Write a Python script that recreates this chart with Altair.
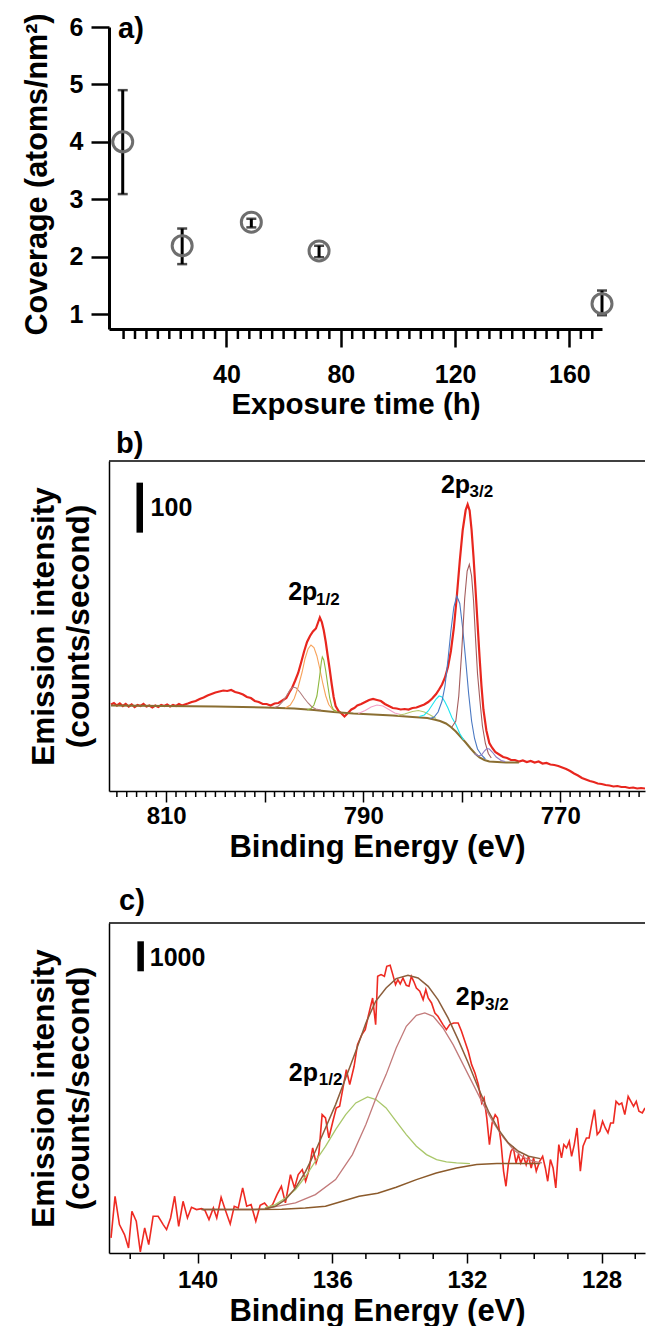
import altair as alt
import pandas as pd

FONT = "Liberation Sans"

# ---------------- panel a : coverage vs exposure time ----------------
a_time = [3.7, 24.5, 48.7, 72.4, 171.4]
a_cov = [4.0, 2.19, 2.6, 2.1, 1.18]
a_lo = [3.09, 1.87, 2.51, 1.99, 0.98]
a_hi = [4.90, 2.49, 2.66, 2.19, 1.41]
a_major = [40, 80, 120, 160]
a_minor = [t for t in range(4, 172, 4) if t % 40 != 0]
a_yticks = [1, 2, 3, 4, 5, 6]

# ---------------- panel b : 2p region (780 eV) ----------------
b_red_E = [815.6, 815.3, 815.0, 814.7, 814.4, 814.1, 813.8, 813.5, 813.2, 812.9, 812.6, 812.3, 812.0, 811.7,
           811.4, 811.1, 810.8, 810.5, 810.2, 809.9, 809.6, 809.3, 809.0, 808.7, 808.4, 808.1, 807.8, 807.4,
           807.0, 806.6, 806.2, 805.8, 805.4, 805.0, 804.6, 804.2, 803.8, 803.4, 803.0, 802.6, 802.2, 801.8,
           801.4, 801.0, 800.6, 800.2, 799.8, 799.4, 799.0, 798.6, 798.2, 797.8, 797.5, 797.2, 796.9, 796.6,
           796.3, 796.0, 795.7, 795.4, 795.1, 794.8, 794.6, 794.4, 794.2, 794.0, 793.8, 793.6, 793.4, 793.2,
           793.0, 792.8, 792.5, 792.2, 791.9, 791.7, 791.5, 791.2, 790.9, 790.6, 790.2, 789.8, 789.4, 789.0,
           788.6, 788.2, 787.8, 787.4, 787.0, 786.6, 786.2, 785.8, 785.4, 785.0, 784.6, 784.2, 783.8, 783.4,
           783.0, 782.6, 782.3, 782.0, 781.7, 781.4, 781.1, 780.8, 780.5, 780.2, 779.9, 779.6, 779.4, 779.2,
           779.0, 778.8, 778.6, 778.4, 778.2, 778.0, 777.8, 777.5, 777.2, 776.9, 776.6, 776.2, 775.8, 775.4,
           775.0, 774.6, 774.2, 773.8, 773.4, 773.0, 772.6, 772.2, 771.8, 771.4, 771.0, 770.6, 770.2, 769.8,
           769.4, 769.0, 768.6, 768.2, 767.8, 767.4, 767.0, 766.6, 766.2, 765.8, 765.4, 765.0, 764.6, 764.2,
           763.8, 763.4, 763.0, 762.6, 762.2, 761.8, 761.4]
b_red_C = [173, 176, 171, 175, 170, 174, 169, 173, 168, 172, 170, 174, 169, 171,
           167, 171, 168, 172, 170, 173, 169, 172, 170, 174, 171, 173, 175, 178,
           180, 184, 187, 191, 194, 197, 199, 201, 200, 202, 198, 196, 193, 188,
           186, 180, 178, 174, 174, 171, 175, 176, 181, 186, 197, 207, 221, 236,
           257, 279, 298, 310, 319, 325, 336, 347, 338, 321, 298, 270, 243, 214,
           188, 170, 160, 155, 149, 153, 157, 163, 166, 171, 174, 178, 182, 184,
           182, 180, 174, 170, 166, 165, 163, 164, 163, 166, 167, 170, 173, 178,
           185, 194, 203, 213, 227, 248, 280, 326, 389, 460, 522, 562, 573, 561,
           522, 467, 403, 337, 271, 211, 163, 121, 96, 86, 78, 73, 68, 66,
           62, 62, 59, 61, 58, 60, 57, 59, 55, 56, 53, 52, 50, 47,
           44, 40, 35, 31, 26, 23, 20, 18, 15, 14, 12, 11, 9, 10,
           8, 8, 6, 7, 5, 6, 5]

b_bg_E = [815.6, 810.0, 805.0, 800.0, 797.0, 795.0, 793.0, 791.0, 789.0, 787.0, 785.0, 783.5, 782.8, 782.2,
          781.6, 781.1, 780.6, 780.1, 779.6, 779.1, 778.6, 778.2, 777.7, 777.2, 776.4, 775.5, 774.2]
b_bg_C = [171, 170, 169, 167, 165, 162, 158, 155, 153, 151, 148, 146, 143, 140,
          135, 128, 119, 108, 97, 85, 74, 67, 62, 59, 58, 57, 57]

b_orange_E = [797.9, 797.4, 797.0, 796.6, 796.2, 795.9, 795.6, 795.3, 795.0, 794.7, 794.4, 794.1, 793.8, 793.5, 793.1, 792.7]
b_orange_C = [166, 172, 185, 208, 238, 265, 284, 292, 287, 270, 244, 215, 190, 173, 163, 160]
b_green_E = [795.7, 795.3, 795.0, 794.7, 794.45, 794.25, 794.15, 794.0, 793.8, 793.6, 793.4, 793.2, 793.0, 792.7]
b_green_C = [162, 165, 172, 190, 225, 258, 268, 262, 240, 212, 186, 170, 162, 159]
b_mauve1_E = [799.0, 798.6, 798.2, 797.8, 797.4, 797.1, 796.8, 796.4, 796.0, 795.6, 795.2, 794.8, 794.3]
b_mauve1_C = [167, 170, 178, 190, 203, 208, 206, 197, 186, 176, 168, 164, 162]
b_pink_E = [790.5, 789.8, 789.2, 788.6, 788.0, 787.4, 786.8, 786.0]
b_pink_C = [155, 161, 168, 172, 170, 163, 156, 152]
b_olive_E = [786.5, 785.8, 785.0, 784.4, 783.8, 783.2, 782.6]
b_olive_C = [151, 154, 159, 161, 158, 152, 145]
b_cyan_E = [784.3, 783.8, 783.4, 783.0, 782.6, 782.3, 782.0, 781.7, 781.4, 781.0, 780.6, 780.2, 779.8]
b_cyan_C = [149, 152, 160, 172, 184, 190, 188, 178, 166, 147, 133, 115, 102]
b_blue_E = [783.2, 782.8, 782.4, 782.0, 781.7, 781.4, 781.1, 780.8, 780.5, 780.2, 779.9, 779.6, 779.3, 779.0,
            778.7, 778.4, 778.0, 777.6]
b_blue_C = [145, 148, 158, 180, 210, 262, 320, 368, 390, 375, 325, 262, 195, 140, 105, 84, 72, 64]
b_mauve2_E = [781.0, 780.6, 780.3, 780.0, 779.7, 779.45, 779.23, 779.0, 778.8, 778.6, 778.4, 778.15, 777.9,
              777.6, 777.3, 777.0]
b_mauve2_C = [128, 140, 190, 280, 385, 440, 453, 430, 380, 305, 235, 180, 130, 95, 75, 66]
b_purple_E = [778.7, 778.3, 778.0, 777.7, 777.45, 777.2, 776.9, 776.5, 776.0, 775.6]
b_purple_C = [75, 70, 72, 80, 85, 84, 78, 68, 61, 59]

b_major = [770, 780, 790, 800, 810]
b_minor = [e for e in range(762, 816) if e % 10 != 0]

# ---------------- panel c : 2p region (133 eV) ----------------
c_red_E = [142.57, 142.45, 142.32, 142.17, 142.05, 141.95, 141.82, 141.70, 141.57, 141.45, 141.32, 141.17,
           141.02, 140.92, 140.80, 140.68, 140.56, 140.43, 140.30, 140.18, 140.03, 139.88, 139.78, 139.66,
           139.53, 139.43, 139.30, 139.18, 139.03, 138.91, 138.79, 138.66, 138.54, 138.41, 138.27, 138.14,
           138.01, 137.89, 137.77, 137.64, 137.51, 137.39, 137.24, 137.12, 137.01, 136.89, 136.79, 136.70,
           136.58, 136.48, 136.40, 136.30, 136.20, 136.10, 135.98, 135.88, 135.78, 135.68, 135.58, 135.48,
           135.35, 135.25, 135.12, 135.02, 134.93, 134.80, 134.71, 134.65, 134.55, 134.45, 134.38, 134.28,
           134.20, 134.12, 134.05, 133.98, 133.90, 133.80, 133.72, 133.65, 133.58, 133.50, 133.40, 133.30,
           133.22, 133.15, 133.05, 132.95, 132.86, 132.71, 132.61, 132.51, 132.39, 132.26, 132.16, 132.06,
           131.96, 131.86, 131.76, 131.66, 131.56, 131.49, 131.41, 131.33, 131.25, 131.16, 131.09, 130.99,
           130.91, 130.84, 130.77, 130.69, 130.62, 130.54, 130.47, 130.40, 130.32, 130.24, 130.17, 130.09,
           130.02, 129.94, 129.84, 129.75, 129.67, 129.60, 129.52, 129.44, 129.36, 129.27, 129.19, 129.12,
           129.04, 128.96, 128.89, 128.81, 128.73, 128.63, 128.55, 128.45, 128.37, 128.28, 128.21, 128.13,
           128.05, 127.97, 127.89, 127.81, 127.73, 127.65, 127.57, 127.48, 127.40, 127.31, 127.21, 127.13,
           127.05, 126.97, 126.89, 126.79, 126.71]
c_red_C = [502, 1891, 946, 613, 169, 1391, 1058, 40, 835, 280, 1224, 1224,
           946, 780, 1169, 1891, 891, 1724, 1169, 1524, 1447, 1480, 1420, 1113,
           1502, 1169, 1858, 1447, 969, 1558, 1502, 2169, 1558, 1613, 1058, 1591,
           1669, 1502, 1613, 1946, 2224, 1669, 2613, 2169, 2613, 2780, 2391, 2724,
           3502, 3002, 3280, 4613, 4502, 3835, 4391, 4835, 4891, 5502, 6113, 5613,
           6224, 6946, 7279, 7446, 7890, 8501, 7613, 9223, 9279, 9223, 9557, 9590,
           9279, 8946, 9112, 8968, 9168, 8923, 8890, 9223, 9057, 8835, 8724, 8446,
           8779, 8501, 8335, 8001, 7890, 7613, 7446, 7613, 7668, 7668, 7390, 7057,
           6724, 6279, 6002, 5613, 5002, 5168, 4502, 3613, 4335, 4613, 4502, 3724,
           2724, 2224, 2946, 3391, 3502, 3002, 3280, 3002, 3224, 2946, 3224, 2835,
           3168, 2724, 3057, 3224, 2835, 2391, 3113, 2835, 2169, 3613, 3168, 3613,
           3502, 3724, 3224, 3613, 4168, 2724, 3557, 3835, 3835, 4391, 4780, 3946,
           4057, 4391, 4168, 4002, 4335, 4335, 5057, 4946, 5002, 4613, 5224, 5057,
           4891, 5057, 4724, 4668, 4835]

c_env_E = [139.88, 139.0, 138.3, 138.0, 137.69, 137.39, 137.09, 136.79, 136.50, 136.20, 135.90, 135.60, 135.30,
           135.00, 134.71, 134.40, 134.10, 133.75, 133.45, 133.15, 132.86, 132.56, 132.26, 131.96, 131.66,
           131.36, 131.06, 130.77, 130.47, 130.17, 129.82]
c_env_C = [1447, 1447, 1450, 1470, 1558, 1780, 2169, 2724, 3391, 4168, 4946, 5835, 6724,
           7668, 8390, 8835, 9146, 9257, 9168, 8890, 8446, 7835, 7112, 6335, 5502,
           4724, 4113, 3669, 3391, 3224, 3146]
c_bg_E = [139.88, 138.5, 137.5, 136.8, 136.2, 135.7, 135.2, 134.65, 134.1, 133.5, 132.91, 132.31, 131.71,
          131.11, 130.52, 129.82]
c_bg_C = [1447, 1447, 1460, 1500, 1558, 1724, 1891, 1990, 2191, 2446, 2669, 2835, 2946,
          2980, 2985, 2985]
c_green_E = [138.0, 137.69, 137.39, 137.09, 136.79, 136.50, 136.20, 135.90, 135.60, 135.30, 134.95, 134.70,
             134.40, 134.10, 133.80, 133.50, 133.20, 132.90, 132.61, 132.31, 131.91]
c_green_C = [1502, 1613, 1835, 2113, 2558, 3058, 3557, 4113, 4613, 5002, 5202, 5113,
             4835, 4391, 3946, 3557, 3280, 3113, 3035, 3002, 2980]
c_mauve_E = [137.89, 137.09, 136.50, 135.90, 135.40, 135.00, 134.70, 134.40, 134.10, 133.80, 133.50, 133.25,
             133.00, 132.71, 132.41, 132.11, 131.81, 131.51, 131.21, 130.91, 130.62, 130.32, 130.02, 129.77]
c_mauve_C = [1502, 1669, 1946, 2446, 3280, 4280, 5168, 5946, 6835, 7557, 7924, 8001,
             7890, 7501, 6946, 6279, 5613, 4946, 4335, 3835, 3446, 3191, 3057, 3002]

c_major = [128, 132, 136, 140]
c_minor = [e for e in range(127, 143) if e % 4 != 0]

# ---------------- sizes ----------------
A_W, A_H = 493, 302
B_W, B_H = 536, 330
C_W, C_H = 536, 330

# ---------------- panel a ----------------
df_a = pd.DataFrame({"t": a_time, "cov": a_cov, "lo": a_lo, "hi": a_hi})
xs_a = alt.Scale(domain=[-1.1, 171.4], nice=False, zero=False)
ys_a = alt.Scale(domain=[0.74, 6], nice=False, zero=False)
ax_a = alt.Axis(values=a_major, tickSize=18, tickWidth=2.5, domainWidth=3, labelFontSize=25,
                labelPadding=15, labelFlush=False, labelOverlap=False,
                title="Exposure time (h)", titleFontSize=29.5, titlePadding=3)
ay_a = alt.Axis(values=a_yticks, tickSize=18, tickWidth=2.5, domainWidth=3, labelFontSize=25,
                labelPadding=8, labelFlush=False, labelOverlap=False,
                title="Coverage (atoms/nm²)", titleFontSize=30.5, titlePadding=17, titleY=147)

Xa = alt.X("t:Q", scale=xs_a, axis=ax_a)

bars = alt.Chart(df_a).mark_rule(color="black", strokeWidth=3).encode(
    x=Xa, y=alt.Y("lo:Q", scale=ys_a, axis=ay_a), y2="hi:Q")
cap_lo = alt.Chart(df_a).mark_tick(color="black", orient="horizontal", size=10, thickness=2.5).encode(
    x=Xa, y=alt.Y("lo:Q", scale=ys_a, axis=ay_a))
cap_hi = alt.Chart(df_a).mark_tick(color="black", orient="horizontal", size=10, thickness=2.5).encode(
    x=Xa, y=alt.Y("hi:Q", scale=ys_a, axis=ay_a))
pts = alt.Chart(df_a).mark_point(shape="circle", filled=False, size=400, strokeWidth=3,
                                 color="#6e6e6e", opacity=1).encode(
    x=Xa, y=alt.Y("cov:Q", scale=ys_a, axis=ay_a))
minor_a = alt.Chart(pd.DataFrame({"t": a_minor})).mark_rule(color="black", strokeWidth=2.5).encode(
    x=Xa, y=alt.value(A_H), y2=alt.value(A_H + 10))
lab_a = alt.Chart(pd.DataFrame({"s": ["a)"]})).mark_text(
    align="left", baseline="alphabetic", fontSize=29, fontWeight="bold", font=FONT, color="black").encode(
    text="s:N", x=alt.value(9), y=alt.value(11))

panel_a = alt.layer(bars, cap_lo, cap_hi, pts, minor_a, lab_a).properties(width=A_W, height=A_H)


# ---------------- helper for the two spectra ----------------
def spectrum_panel(W, H, xdom, ydom, major, minor, label_expr, tick_major, lab_pad, series,
                   scalebar, scale_text, annotations, panel_label, panel_label_pos):
    xs = alt.Scale(domain=xdom, reverse=True, nice=False, zero=False)
    ys = alt.Scale(domain=ydom, nice=False, zero=False)
    ax = alt.Axis(values=major, labelExpr=label_expr, tickSize=tick_major, tickWidth=1.5,
                  domainWidth=1.5, labelFontSize=24, labelPadding=lab_pad, labelFlush=False,
                  labelOverlap=False, title="Binding Energy (eV)", titleFontSize=31, titlePadding=4)
    ay = alt.Axis(ticks=False, labels=False, domainWidth=1.5,
                  title=["Emission intensity", "(counts/second)"], titleFontSize=31.5,
                  titleLineHeight=35, titlePadding=14)
    X = alt.X("E:Q", scale=xs, axis=ax)
    Y = alt.Y("C:Q", scale=ys, axis=ay)
    layers = []
    for E, C, color, width in series:
        df = pd.DataFrame({"E": E, "C": C})
        layers.append(alt.Chart(df).mark_line(color=color, strokeWidth=width, clip=True).encode(x=X, y=Y))
    # minor ticks along the energy axis
    layers.append(alt.Chart(pd.DataFrame({"E": minor})).mark_rule(color="black", strokeWidth=1.5).encode(
        x=X, y=alt.value(H), y2=alt.value(H + 6)))
    # top edge of the frame
    layers.append(alt.Chart(pd.DataFrame({"E": [xdom[0]]})).mark_rule(color="black", strokeWidth=1.5).encode(
        x=alt.value(0), x2=alt.value(W), y=alt.value(0)))
    # intensity scale bar
    sb = pd.DataFrame({"E": [scalebar[0]], "C": [scalebar[1]], "C2": [scalebar[2]]})
    layers.append(alt.Chart(sb).mark_rule(color="black", strokeWidth=6.5).encode(x=X, y=Y, y2="C2:Q"))
    st = pd.DataFrame({"E": [scale_text[0]], "C": [scale_text[1]], "s": [scale_text[2]]})
    layers.append(alt.Chart(st).mark_text(align="left", baseline="alphabetic", fontSize=25,
                                          fontWeight="bold", font=FONT, color="black").encode(
        x=X, y=Y, text="s:N"))
    for E, C, s, fs in annotations:
        d = pd.DataFrame({"E": [E], "C": [C], "s": [s]})
        layers.append(alt.Chart(d).mark_text(align="left", baseline="alphabetic", fontSize=fs,
                                             fontWeight="bold", font=FONT, color="black").encode(
            x=X, y=Y, text="s:N"))
    pl = pd.DataFrame({"s": [panel_label]})
    layers.append(alt.Chart(pl).mark_text(align="left", baseline="alphabetic", fontSize=29,
                                          fontWeight="bold", font=FONT, color="black").encode(
        text="s:N", x=alt.value(panel_label_pos[0]), y=alt.value(panel_label_pos[1])))
    return alt.layer(*layers).properties(width=W, height=H)


panel_b = spectrum_panel(
    B_W, B_H, [761.4, 815.8], [0, 660], b_major, b_minor,
    "datum.value % 20 == 10 ? datum.label : ''", 11, 2,
    [(b_red_E, b_red_C, "#e8261e", 2.2),
     (b_bg_E, b_bg_C, "#8a6e32", 2.0),
     (b_mauve1_E, b_mauve1_C, "#b27c7c", 1.1),
     (b_orange_E, b_orange_C, "#f7a35c", 1.1),
     (b_green_E, b_green_C, "#8db83f", 1.1),
     (b_pink_E, b_pink_C, "#f2a0c8", 1.1),
     (b_olive_E, b_olive_C, "#b5c96a", 1.1),
     (b_cyan_E, b_cyan_C, "#1ce6f0", 1.1),
     (b_blue_E, b_blue_C, "#4a78c2", 1.1),
     (b_mauve2_E, b_mauve2_C, "#a45c5c", 1.1),
     (b_purple_E, b_purple_C, "#8e7cc3", 1.1)],
    (812.68, 516.7, 616.7), (811.58, 550, "100"),
    [(797.62, 383, "2p", 25), (794.79, 373, "1/2", 17),
     (782.11, 597, "2p", 25), (779.21, 588, "3/2", 17)],
    "b)", (7, -8))

panel_c = spectrum_panel(
    C_W, C_H, [126.71, 142.63], [0, 11000], c_major, c_minor,
    "datum.label", 10, 5,
    [(c_red_E, c_red_C, "#ee2a22", 1.6),
     (c_bg_E, c_bg_C, "#8b5a2b", 1.5),
     (c_green_E, c_green_C, "#a9c76a", 1.3),
     (c_mauve_E, c_mauve_C, "#c27a7a", 1.3),
     (c_env_E, c_env_C, "#8b5e3c", 1.5)],
    (141.69, 9390, 10390), (141.42, 9557, "1000"),
    [(137.29, 5746, "2p", 25), (136.40, 5613, "1/2", 17),
     (132.33, 8257, "2p", 25), (131.46, 8112, "3/2", 17)],
    "c)", (10, -13))

chart = alt.vconcat(panel_a, panel_b, panel_c, spacing=132, bounds="flush").properties(
    padding={"left": 22, "top": 12, "right": 0, "bottom": 0}
).configure_axis(
    labelFont=FONT, titleFont=FONT, labelFontWeight="bold", titleFontWeight="bold",
    labelColor="black", titleColor="black", tickColor="black", domainColor="black", grid=False
).configure_view(stroke=None)

chart.save("out.html", embed_options={"renderer": "svg", "actions": False})
